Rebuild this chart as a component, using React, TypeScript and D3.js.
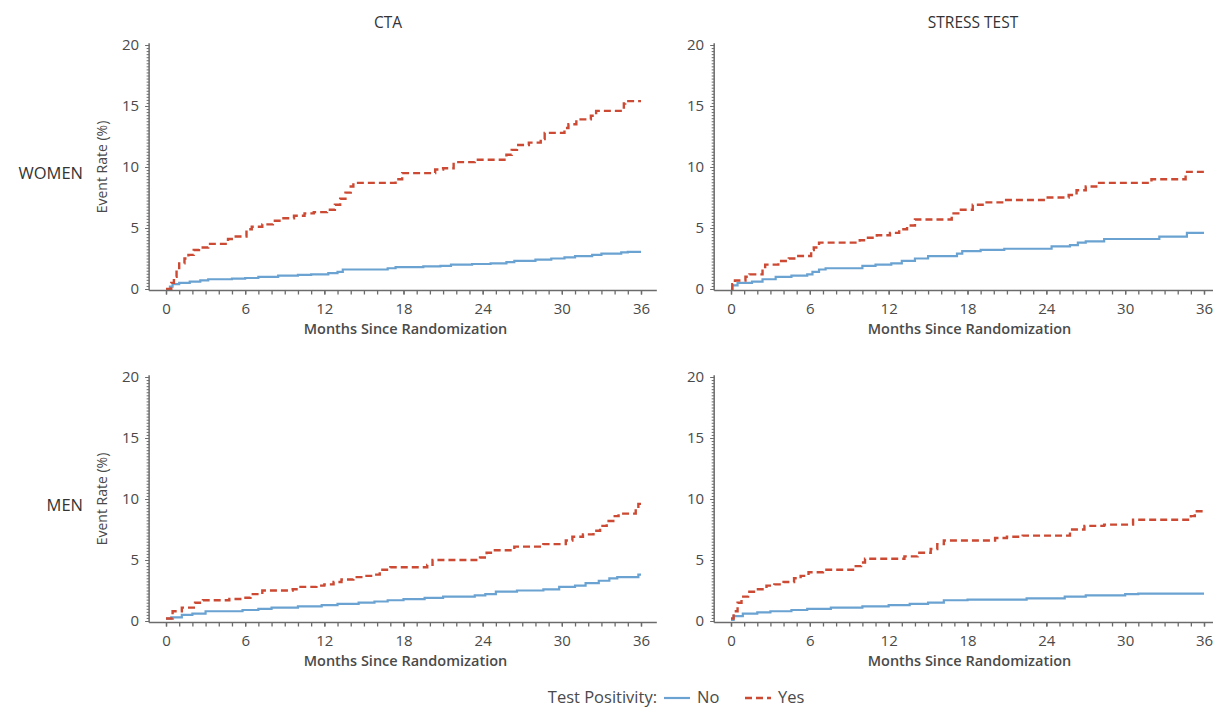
import { useEffect, useRef } from "react";
import * as d3 from "d3";

type Pt = [number, number];

const columns = ["CTA", "STRESS TEST"];
const rows = ["WOMEN", "MEN"];
const monthTicks = [0, 6, 12, 18, 24, 30, 36];
const rateTicks = [0, 5, 10, 15, 20];
const legendItems = ["No", "Yes"];

// [month, cumulative event rate %] step points
const womenCtaNo: Pt[] = [[0, 0], [0.3, 0.2], [0.5, 0.4], [1.0, 0.5], [1.8, 0.6], [2.6, 0.7], [3.2, 0.8], [5.0, 0.85], [6.0, 0.9], [7.0, 1.0], [8.5, 1.1], [10.0, 1.15], [11.0, 1.2], [12.3, 1.3], [13.0, 1.4], [13.4, 1.6], [16.8, 1.7], [17.4, 1.8], [19.5, 1.85], [20.8, 1.9], [21.6, 2.0], [23.2, 2.05], [24.6, 2.1], [25.8, 2.2], [26.4, 2.3], [28.0, 2.4], [29.2, 2.5], [30.2, 2.6], [31.0, 2.7], [32.3, 2.8], [33.0, 2.9], [34.5, 3.0], [35.0, 3.05], [36, 3.05]];
const womenCtaYes: Pt[] = [[0, 0], [0.4, 0.5], [0.6, 1.0], [0.8, 1.6], [1.0, 2.1], [1.4, 2.5], [1.7, 2.8], [2.1, 3.2], [2.5, 3.4], [3.2, 3.7], [4.7, 4.1], [5.1, 4.3], [6.1, 4.9], [6.5, 5.1], [7.3, 5.3], [8.1, 5.6], [8.8, 5.8], [9.7, 6.0], [10.5, 6.2], [11.2, 6.3], [12.2, 6.5], [12.8, 6.9], [13.2, 7.4], [13.6, 7.9], [14.0, 8.4], [14.2, 8.7], [17.4, 9.0], [17.9, 9.5], [20.4, 9.8], [21.0, 9.9], [21.8, 10.4], [23.4, 10.6], [25.8, 11.0], [26.2, 11.4], [26.6, 11.8], [27.5, 12.0], [28.4, 12.3], [28.7, 12.8], [30.2, 13.2], [30.5, 13.5], [31.1, 13.9], [32.2, 14.2], [32.6, 14.6], [34.7, 15.2], [34.8, 15.4], [36, 15.4]];
const womenStressNo: Pt[] = [[0, 0], [0.1, 0.3], [0.5, 0.5], [1.6, 0.6], [2.4, 0.8], [3.4, 1.0], [4.6, 1.1], [5.8, 1.2], [6.2, 1.4], [6.7, 1.6], [7.2, 1.7], [10.0, 1.9], [11.0, 2.0], [12.2, 2.1], [13.0, 2.3], [14.0, 2.5], [15.0, 2.7], [17.2, 2.9], [17.6, 3.1], [19.0, 3.2], [20.8, 3.3], [24.4, 3.5], [25.8, 3.6], [26.4, 3.8], [27.0, 3.9], [28.4, 4.1], [32.6, 4.3], [34.7, 4.6], [36, 4.6]];
const womenStressYes: Pt[] = [[0, 0], [0.1, 0.4], [0.3, 0.7], [1.1, 1.0], [1.4, 1.2], [2.4, 1.5], [2.6, 2.0], [3.6, 2.3], [4.4, 2.5], [5.0, 2.7], [6.1, 3.2], [6.3, 3.4], [6.7, 3.8], [9.8, 4.0], [10.3, 4.2], [11.1, 4.4], [12.1, 4.6], [12.8, 4.9], [13.4, 5.2], [14.0, 5.7], [16.8, 6.2], [17.3, 6.5], [18.4, 6.9], [19.3, 7.1], [20.8, 7.3], [24.0, 7.5], [25.7, 7.7], [26.3, 8.1], [27.0, 8.4], [27.8, 8.7], [32.0, 9.0], [34.6, 9.6], [36, 9.6]];
const menCtaNo: Pt[] = [[0, 0.2], [0.4, 0.3], [1.2, 0.5], [2.0, 0.6], [3.0, 0.8], [5.8, 0.9], [7.0, 1.0], [8.0, 1.1], [10.0, 1.2], [11.8, 1.3], [13.0, 1.4], [14.6, 1.5], [15.8, 1.6], [16.8, 1.7], [18.0, 1.8], [19.6, 1.9], [21.0, 2.0], [23.4, 2.1], [24.2, 2.2], [25.0, 2.4], [26.6, 2.5], [28.6, 2.6], [29.8, 2.8], [31.0, 2.9], [31.8, 3.1], [32.8, 3.3], [33.6, 3.5], [34.2, 3.6], [35.8, 3.8], [36, 3.8]];
const menCtaYes: Pt[] = [[0, 0.2], [0.5, 0.8], [1.2, 1.1], [2.2, 1.5], [2.8, 1.7], [4.8, 1.8], [5.8, 1.9], [6.4, 2.2], [7.3, 2.5], [9.6, 2.6], [10.0, 2.8], [11.4, 2.9], [12.0, 3.0], [12.7, 3.2], [13.3, 3.4], [14.2, 3.6], [15.0, 3.7], [15.8, 3.8], [16.2, 4.2], [17.0, 4.4], [19.8, 4.6], [20.2, 5.0], [23.8, 5.2], [24.3, 5.6], [24.8, 5.8], [26.4, 6.1], [28.6, 6.3], [30.3, 6.6], [30.8, 6.9], [31.6, 7.1], [32.4, 7.4], [32.9, 7.8], [33.4, 8.2], [33.9, 8.6], [34.3, 8.8], [35.6, 9.2], [35.8, 9.6], [36, 9.6]];
const menStressNo: Pt[] = [[0, 0.1], [0.2, 0.4], [0.9, 0.6], [2.0, 0.7], [3.0, 0.8], [4.6, 0.9], [5.8, 1.0], [7.6, 1.1], [10.0, 1.2], [12.0, 1.3], [13.6, 1.4], [15.0, 1.5], [16.2, 1.7], [18.0, 1.75], [22.5, 1.85], [25.4, 2.0], [27.0, 2.1], [30.0, 2.2], [31.0, 2.25], [36, 2.25]];
const menStressYes: Pt[] = [[0, 0.2], [0.2, 0.8], [0.5, 1.5], [0.8, 2.0], [1.3, 2.4], [1.9, 2.6], [2.7, 2.9], [3.3, 3.0], [4.0, 3.2], [4.8, 3.5], [5.3, 3.7], [5.9, 4.0], [7.0, 4.2], [9.4, 4.5], [9.9, 4.8], [10.2, 5.1], [13.2, 5.3], [14.2, 5.6], [15.2, 5.9], [15.7, 6.3], [16.2, 6.6], [20.1, 6.8], [21.0, 6.9], [22.2, 7.0], [25.8, 7.5], [26.9, 7.8], [28.4, 7.9], [30.6, 8.3], [35.0, 8.6], [35.3, 9.0], [36, 9.0]];

const panels = [
  { row: 0, col: 0, no: womenCtaNo, yes: womenCtaYes },
  { row: 0, col: 1, no: womenStressNo, yes: womenStressYes },
  { row: 1, col: 0, no: menCtaNo, yes: menCtaYes },
  { row: 1, col: 1, no: menStressNo, yes: menStressYes },
];

const W = 1213;
const H = 708;
const FONT = "'Open Sans', 'Noto Sans', sans-serif";
const BLUE = "#6aa3d2";
const RED = "#cc4a33";
const AXIS = "#6b6b6b";
const TEXT = "#4a4a4a";

// pixel extents of each column / row
const colX = [[166, 641], [731, 1204]];
const rowY = [[289, 45], [621, 377]];
const titleX = [388, 973];

function Panel({ row, col, no, yes }: { row: number; col: number; no: Pt[]; yes: Pt[] }) {
  const gx = useRef<SVGGElement>(null);
  const gy = useRef<SVGGElement>(null);
  const x = d3.scaleLinear().domain([0, 36]).range(colX[col]);
  const y = d3.scaleLinear().domain([0, 20]).range(rowY[row]);
  const axisX = x(-1.28);
  const axisY = y(0) + 1.5;

  useEffect(() => {
    const sx = d3.select(gx.current!);
    sx.selectAll("*").remove();
    sx.append("g")
      .call(d3.axisBottom(x).tickValues(d3.range(0, 37, 1)).tickSize(4).tickFormat(() => ""))
      .call((g) => g.select(".domain").remove());
    sx.append("g")
      .call(d3.axisBottom(x).tickValues(monthTicks).tickSize(4).tickPadding(9).tickFormat(d3.format("d")))
      .call((g) => g.select(".domain").remove());
    sx.selectAll("line").attr("stroke", AXIS).attr("stroke-width", 1.3);
    sx.selectAll("text").attr("fill", TEXT).attr("font-size", 15).attr("font-family", FONT);

    const sy = d3.select(gy.current!);
    sy.selectAll("*").remove();
    sy.append("g")
      .call(d3.axisLeft(y).tickValues(d3.range(0, 20.01, 0.25)).tickSize(2.5).tickFormat(() => ""))
      .call((g) => g.select(".domain").remove());
    sy.append("g")
      .call(d3.axisLeft(y).tickValues(rateTicks).tickSize(4).tickPadding(6).tickFormat(d3.format("d")))
      .call((g) => g.select(".domain").remove());
    sy.selectAll("line").attr("stroke", AXIS).attr("stroke-width", 1);
    sy.selectAll("text").attr("fill", TEXT).attr("font-size", 15).attr("font-family", FONT);
  }, [row, col]);

  const line = d3
    .line<Pt>()
    .x((d) => x(d[0]))
    .y((d) => y(d[1]))
    .curve(d3.curveStepAfter);

  const midX = (x(0) + x(36)) / 2 + 2;

  return (
    <g>
      <path d={line(no) ?? ""} fill="none" stroke={BLUE} strokeWidth={2.2} />
      <path d={line(yes) ?? ""} fill="none" stroke={RED} strokeWidth={2.4} strokeDasharray="7,4" />
      <line x1={axisX} x2={axisX} y1={y(20.15)} y2={axisY} stroke={AXIS} strokeWidth={1.5} />
      <line x1={axisX} x2={x(37.2)} y1={axisY} y2={axisY} stroke={AXIS} strokeWidth={1.5} />
      <g ref={gx} transform={`translate(0,${axisY})`} />
      <g ref={gy} transform={`translate(${axisX},0)`} />
      <text x={midX} y={axisY + 43} textAnchor="middle" fontSize={14.5} fontWeight={600} fill={TEXT} fontFamily={FONT}>
        Months Since Randomization
      </text>
      {col === 0 && (
        <text
          transform={`translate(103,${y(10)}) rotate(-90)`}
          textAnchor="middle"
          dominantBaseline="middle"
          fontSize={14}
          fill={TEXT}
          fontFamily={FONT}
        >
          Event Rate (%)
        </text>
      )}
    </g>
  );
}

export default function App() {
  return (
    <svg
      width={W}
      height={H}
      style={{ position: "absolute", left: 0, top: 0, background: "#fff" }}
      fontFamily={FONT}
    >
      <rect width={W} height={H} fill="#fff" />
      {columns.map((c, i) => (
        <text key={c} x={titleX[i]} y={28} textAnchor="middle" fontSize={15.5} fill="#333">
          {c}
        </text>
      ))}
      {rows.map((r, i) => (
        <text key={r} x={83} y={rowY[i][0] - 110} textAnchor="end" fontSize={16.5} fill="#333">
          {r}
        </text>
      ))}
      {panels.map((p) => (
        <Panel key={`${p.row}-${p.col}`} {...p} />
      ))}
      <g fontSize={16.5} fill={TEXT}>
        <text x={657} y={703} textAnchor="end">Test Positivity:</text>
        <line x1={664} x2={690} y1={698} y2={698} stroke={BLUE} strokeWidth={2.2} />
        <text x={697} y={703}>{legendItems[0]}</text>
        <line x1={745} x2={771} y1={698} y2={698} stroke={RED} strokeWidth={2.4} strokeDasharray="7,4" />
        <text x={778} y={703}>{legendItems[1]}</text>
      </g>
    </svg>
  );
}
